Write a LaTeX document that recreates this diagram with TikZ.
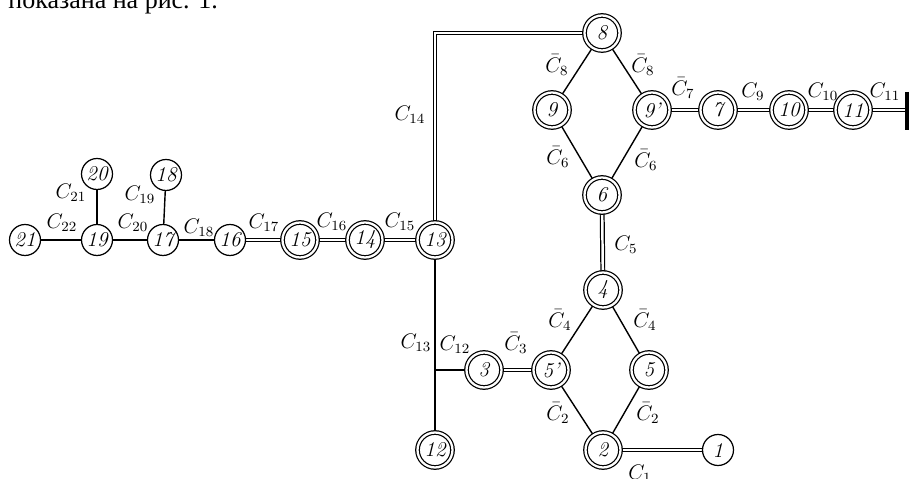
\documentclass[tikz,border=0pt]{standalone}
\usepackage{fontspec}
\newfontfamily\cyrfont{Liberation Serif}
\usetikzlibrary{backgrounds}

\begin{document}
\begin{tikzpicture}[x=0.02cm,y=-0.02cm,
  vert/.style={circle,draw,line width=0.7pt,fill=white,minimum size=0.62cm,
    inner sep=0pt,font=\large\itshape},
  dvert/.style={vert,double,double distance=1.3pt,minimum size=0.7cm},
  link/.style={line width=0.8pt},
  dlink/.style={line width=0.7pt,double,double distance=1.4pt},
  lab/.style={inner sep=0pt,font=\large}]
\useasboundingbox (0,0) rectangle (910,479);

% caption line cut by the page edge
\node[anchor=base west,inner sep=0pt,font=\cyrfont\fontsize{14.8}{17}\selectfont]
  (caption) at (8,9) {показана на рис. 1.};

% left chain
\node[vert] (n21) at (25,240) {21};
\node[vert] (n19) at (97,240) {19};
\node[vert] (n20) at (97,174) {20};
\node[vert] (n17) at (163,240) {17};
\node[vert] (n18) at (166,175) {18};
\node[vert] (n16) at (230,240) {16};
\node[dvert] (n15) at (300,240) {15};
\node[dvert] (n14) at (365,240) {14};
\node[dvert] (n13) at (435,240) {13};
\node[dvert] (n12) at (435,450) {12};

% lower ring
\node[dvert] (n3) at (484,370) {3};
\node[dvert] (n5p) at (551,370) {5'};
\node[dvert] (n5) at (649,370) {5};
\node[dvert] (n4) at (603,290) {4};
\node[dvert] (n2) at (603,450) {2};
\node[vert] (n1) at (718,450) {1};

% upper ring and right chain
\node[dvert] (n6) at (602,195) {6};
\node[dvert] (n9) at (552,110) {9};
\node[dvert] (n9p) at (652,110) {9'};
\node[dvert] (n8) at (602,33) {8};
\node[dvert] (n7) at (718,110) {7};
\node[dvert] (n10) at (789,110) {10};
\node[dvert] (n11) at (853,110) {11};

\coordinate (corner) at (435,33);
\coordinate (fork) at (435,370);
\coordinate (stop) at (907,110);

\begin{scope}[on background layer]
  \draw[link] (n21) -- (n19);
  \draw[link] (n19) -- (n17);
  \draw[link] (n17) -- (n16);
  \draw[link] (n19) -- (n20);
  \draw[link] (n17) -- (n18);
  \draw[dlink] (n16) -- (n15);
  \draw[dlink] (n15) -- (n14);
  \draw[dlink] (n14) -- (n13);
  \draw[dlink] (n13) -- (corner) -- (n8);
  \draw[link] (n13) -- (n12);
  \draw[link] (fork) -- (n3);
  \draw[dlink] (n3) -- (n5p);
  \draw[link] (n5p) -- (n4);
  \draw[link] (n4) -- (n5);
  \draw[link] (n5p) -- (n2);
  \draw[link] (n5) -- (n2);
  \draw[dlink] (n2) -- (n1);
  \draw[dlink] (n4) -- (n6);
  \draw[link] (n6) -- (n9);
  \draw[link] (n6) -- (n9p);
  \draw[link] (n9) -- (n8);
  \draw[link] (n9p) -- (n8);
  \draw[dlink] (n9p) -- (n7);
  \draw[dlink] (n7) -- (n10);
  \draw[dlink] (n10) -- (n11);
  \draw[dlink] (n11) -- (stop);
\end{scope}
\draw[line width=2.5pt] (stop) ++(0,-18) -- ++(0,38);

% labels
\node[lab] (c22) at (62,223) {$C_{22}$};
\node[lab] (c21) at (71,193) {$C_{21}$};
\node[lab] (c20) at (133,223) {$C_{20}$};
\node[lab] (c19) at (140,195) {$C_{19}$};
\node[lab] (c18) at (199,228) {$C_{18}$};
\node[lab] (c17) at (264,223) {$C_{17}$};
\node[lab] (c16) at (332,222) {$C_{16}$};
\node[lab] (c15) at (400,222) {$C_{15}$};
\node[lab] (c14) at (410,115) {$C_{14}$};
\node[lab] (c13) at (416,343) {$C_{13}$};
\node[lab] (c12) at (455,345) {$C_{12}$};
\node[lab] (cb3) at (516,343) {$\bar C_3$};
\node[lab] (cb4l) at (560,320) {$\bar C_4$};
\node[lab] (cb4r) at (645,320) {$\bar C_4$};
\node[lab] (cb2l) at (558,413) {$\bar C_2$};
\node[lab] (cb2r) at (648,413) {$\bar C_2$};
\node[lab] (c1) at (640,474) {$C_1$};
\node[lab] (c5) at (626,245) {$C_5$};
\node[lab] (cb6l) at (558,157) {$\bar C_6$};
\node[lab] (cb6r) at (646,160) {$\bar C_6$};
\node[lab] (cb8l) at (557,65) {$\bar C_8$};
\node[lab] (cb8r) at (643,65) {$\bar C_8$};
\node[lab] (cb7) at (683,88) {$\bar C_7$};
\node[lab] (c9) at (753,92) {$C_9$};
\node[lab] (c10) at (823,92) {$C_{10}$};
\node[lab] (c11) at (885,92) {$C_{11}$};
\end{tikzpicture}
\end{document}
